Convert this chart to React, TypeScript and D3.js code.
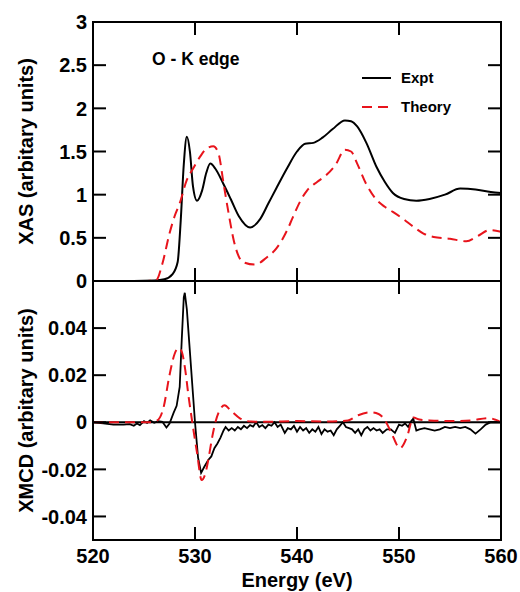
import React from 'react';
import * as d3 from 'd3';

// XAS panel (O K edge)
const xasExptE = [520, 524, 526, 527, 527.8, 528.3, 528.6, 528.9, 529.2, 529.5, 529.8, 530.2, 530.7, 531.1, 531.5, 532, 532.8, 533.5, 534.3, 535.4, 536.4, 537.2, 538, 539, 540, 540.8, 541.6, 542.5, 543.5, 544.7, 545.3, 545.9, 546.8, 547.8, 548.6, 549.4, 550.5, 551.7, 553, 554.5, 556, 557.5, 559, 560];
const xasExptV = [0, 0, 0.005, 0.02, 0.08, 0.22, 0.7, 1.35, 1.67, 1.5, 1.1, 0.93, 1.05, 1.25, 1.36, 1.3, 1.12, 0.95, 0.75, 0.62, 0.72, 0.9, 1.08, 1.3, 1.5, 1.59, 1.6, 1.66, 1.76, 1.86, 1.85, 1.79, 1.6, 1.32, 1.15, 1.02, 0.95, 0.93, 0.95, 1.0, 1.07, 1.06, 1.03, 1.02];

const xasTheoryE = [520, 525, 526.2, 526.8, 527.5, 528.0, 528.5, 529.2, 529.8, 530.5, 531.1, 531.8, 532.3, 532.8, 533.3, 533.8, 534.7, 535.9, 537, 538, 539, 539.6, 540.3, 541, 542, 542.9, 543.8, 544.7, 545.3, 545.9, 546.8, 547.8, 548.6, 549.4, 550.4, 551.4, 552.4, 553.4, 555, 556.6, 557.7, 558.9, 560];
const xasTheoryV = [0, 0, 0.01, 0.2, 0.55, 0.75, 0.9, 1.17, 1.3, 1.44, 1.53, 1.56, 1.48, 1.13, 0.78, 0.47, 0.22, 0.19, 0.27, 0.38, 0.58, 0.74, 0.92, 1.05, 1.15, 1.23, 1.35, 1.52, 1.5, 1.36, 1.12, 0.94, 0.86, 0.8, 0.72, 0.63, 0.55, 0.51, 0.49, 0.46, 0.52, 0.59, 0.57];

// XMCD panel
const xmcdExptE = [520, 521, 522, 523, 523.6, 524, 524.3, 524.6, 525, 525.3, 525.6, 526, 526.4, 526.8, 527.2, 527.5, 527.9, 528.2, 528.5, 528.7, 528.9, 529.0, 529.2, 529.5, 529.8, 530.0, 530.3, 530.6, 530.9, 531.3, 531.6, 531.9, 532.2, 532.5, 532.8, 533.0, 533.3, 533.6, 533.9, 534.2, 534.5, 534.8, 535.1, 535.4, 535.7, 536.0, 536.3, 536.6, 536.9, 537.2, 537.5, 537.8, 538.1, 538.4, 538.8, 539.1, 539.4, 539.7, 540.0, 540.3, 540.6, 540.9, 541.2, 541.5, 541.8, 542.1, 542.4, 542.7, 543.0, 543.3, 543.6, 543.9, 544.2, 544.5, 544.8, 545.1, 545.4, 545.7, 546.0, 546.3, 546.6, 546.9, 547.2, 547.5, 547.8, 548.1, 548.4, 548.8, 549.2, 549.6, 550.0, 550.3, 550.6, 550.9, 551.2, 551.4, 551.7, 552.0, 552.5, 553.0, 553.5, 554.0, 554.5, 555.0, 555.5, 556.0, 556.5, 557.0, 557.5, 558.0, 558.5, 559.0, 559.5, 560];
const xmcdExptV = [0, -0.0005, -0.001, -0.001, -0.0008, -0.0015, -0.0005, -0.0012, 0.0005, -0.0003, 0.0008, -0.0002, 0.0005, 0.0002, -0.0022, -0.0005, 0.004, 0.007, 0.015, 0.035, 0.053, 0.055, 0.048, 0.03, 0.012, 0, -0.015, -0.0215, -0.019, -0.016, -0.0145, -0.011, -0.009, -0.0065, -0.0035, -0.002, -0.0035, -0.0025, -0.0035, -0.002, -0.003, -0.0015, -0.0025, -0.0012, -0.0018, 0, -0.002, -0.0012, -0.0025, -0.001, -0.0015, 0, -0.002, -0.001, -0.0045, -0.0025, -0.003, -0.0015, -0.004, -0.002, -0.0035, -0.0025, -0.0045, -0.003, -0.004, -0.002, -0.005, -0.003, -0.004, -0.0035, -0.0055, -0.003, -0.0015, 0, -0.002, -0.0025, -0.003, -0.0045, -0.003, -0.0055, -0.003, -0.002, -0.0035, -0.0025, -0.0035, -0.003, -0.0045, -0.003, -0.003, -0.0045, -0.001, -0.0015, -0.0005, -0.002, 0.0005, 0.0015, -0.0035, -0.003, -0.0025, -0.003, -0.0035, -0.003, -0.002, -0.0025, -0.002, -0.0025, -0.002, -0.003, -0.0048, -0.003, -0.001, 0, 0, 0];

const xmcdTheoryE = [520, 525.5, 526.3, 526.9, 527.5, 528.0, 528.4, 528.7, 529.0, 529.4, 529.7, 530.2, 530.65, 531.0, 531.3, 531.7, 532.0, 532.4, 532.9, 533.5, 534.4, 535.5, 537, 540, 543, 545, 546, 547.2, 548.0, 548.6, 549.2, 550.1, 550.8, 551.4, 552, 553, 555, 557, 558.8, 559.5, 560];
const xmcdTheoryV = [0, 0, 0.0008, 0.006, 0.02, 0.029, 0.0315, 0.03, 0.0235, 0.01, 0.001, -0.013, -0.0245, -0.022, -0.016, -0.006, 0, 0.005, 0.0072, 0.005, 0.0017, 0.0003, 0.0002, 0.0005, 0.0003, 0.0008, 0.003, 0.0042, 0.0035, 0.001, -0.004, -0.011, -0.006, 0.002, 0.0012, 0.0008, 0.0005, 0.0008, 0.0018, 0.001, 0];

const energyTicks = [520, 530, 540, 550, 560];
const xasTicks = [0, 0.5, 1, 1.5, 2, 2.5, 3];
const xmcdTicks = [-0.04, -0.02, 0, 0.02, 0.04];

const W = 520;
const H = 592;
const left = 93;
const right = 501;
const top = 22;
const mid = 281;
const bottom = 540;
const tick = 13;
const font = '"Liberation Sans", Arial, Helvetica, sans-serif';

export default function App() {
  const x = d3.scaleLinear().domain([520, 560]).range([left, right]);
  const yXas = d3.scaleLinear().domain([0, 3]).range([mid, top]);
  const yXmcd = d3.scaleLinear().domain([-0.05, 0.06]).range([bottom, mid]);

  const mk = (ys: d3.ScaleLinear<number, number>, curve: d3.CurveFactory) =>
    d3.line<[number, number]>().x(d => x(d[0])).y(d => ys(d[1])).curve(curve);

  const pts = (es: number[], vs: number[]) => es.map((e, i) => [e, vs[i]] as [number, number]);

  const xasExpt = mk(yXas, d3.curveMonotoneX)(pts(xasExptE, xasExptV)) || '';
  const xasTheory = mk(yXas, d3.curveMonotoneX)(pts(xasTheoryE, xasTheoryV)) || '';
  const xmcdExpt = mk(yXmcd, d3.curveLinear)(pts(xmcdExptE, xmcdExptV)) || '';
  const xmcdTheory = mk(yXmcd, d3.curveMonotoneX)(pts(xmcdTheoryE, xmcdTheoryV)) || '';

  const labelStyle = { fontFamily: font, fontWeight: 700 as const, fontSize: 20, fill: '#000' };

  return (
    <svg width={W} height={H} style={{ position: 'absolute', left: 0, top: 0 }}>
      <rect width={W} height={H} fill="#fff" />
      <defs>
        <clipPath id="clipTop"><rect x={left} y={top} width={right - left} height={mid - top} /></clipPath>
        <clipPath id="clipBot"><rect x={left} y={mid} width={right - left} height={bottom - mid} /></clipPath>
      </defs>

      {/* curves */}
      <g clipPath="url(#clipTop)">
        <path d={xasExpt} fill="none" stroke="#000" strokeWidth={2} />
        <path d={xasTheory} fill="none" stroke="#e8141c" strokeWidth={2} strokeDasharray="10,6" />
      </g>
      <g clipPath="url(#clipBot)">
        <line x1={left} x2={right} y1={yXmcd(0)} y2={yXmcd(0)} stroke="#000" strokeWidth={2.2} />
        <path d={xmcdExpt} fill="none" stroke="#000" strokeWidth={1.8} />
        <path d={xmcdTheory} fill="none" stroke="#e8141c" strokeWidth={2} strokeDasharray="10,6" />
      </g>

      {/* frame */}
      <g stroke="#000" strokeWidth={2} fill="none">
        <rect x={left} y={top} width={right - left} height={bottom - top} />
        <line x1={left} x2={right} y1={mid} y2={mid} />
      </g>

      {/* x ticks */}
      <g stroke="#000" strokeWidth={2}>
        {energyTicks.map(t => (
          <g key={'xt' + t}>
            <line x1={x(t)} x2={x(t)} y1={top} y2={top + tick} />
            <line x1={x(t)} x2={x(t)} y1={mid - tick} y2={mid + tick} />
            <line x1={x(t)} x2={x(t)} y1={bottom} y2={bottom - tick} />
          </g>
        ))}
        {xasTicks.map(t => (
          <g key={'ya' + t}>
            <line x1={left} x2={left + tick} y1={yXas(t)} y2={yXas(t)} />
            <line x1={right} x2={right - tick} y1={yXas(t)} y2={yXas(t)} />
          </g>
        ))}
        {xmcdTicks.map(t => (
          <g key={'yb' + t}>
            <line x1={left} x2={left + tick} y1={yXmcd(t)} y2={yXmcd(t)} />
            <line x1={right} x2={right - tick} y1={yXmcd(t)} y2={yXmcd(t)} />
          </g>
        ))}
      </g>

      {/* tick labels */}
      {energyTicks.map(t => (
        <text key={'xl' + t} x={x(t)} y={563} textAnchor="middle" style={labelStyle}>{t}</text>
      ))}
      {xasTicks.map(t => (
        <text key={'yal' + t} x={left - 6} y={yXas(t)} dy="0.36em" textAnchor="end" style={labelStyle}>{t}</text>
      ))}
      {xmcdTicks.map(t => (
        <text key={'ybl' + t} x={left - 6} y={yXmcd(t)} dy="0.36em" textAnchor="end" style={labelStyle}>{t}</text>
      ))}

      {/* axis titles */}
      <text x={(left + right) / 2} y={587} textAnchor="middle" style={labelStyle}>Energy (eV)</text>
      <text transform={`translate(33, ${(top + mid) / 2}) rotate(-90)`} textAnchor="middle" style={labelStyle}>XAS (arbitary units)</text>
      <text transform={`translate(33, ${(mid + bottom) / 2}) rotate(-90)`} textAnchor="middle" style={labelStyle}>XMCD (arbitary units)</text>

      {/* annotation + legend */}
      <text x={152} y={65} style={{ ...labelStyle, fontSize: 17.5 }}>O - K edge</text>
      <line x1={362} x2={391} y1={78} y2={78} stroke="#000" strokeWidth={2} />
      <text x={401} y={83} style={{ ...labelStyle, fontSize: 15 }}>Expt</text>
      <line x1={362} x2={392} y1={107} y2={107} stroke="#e8141c" strokeWidth={2} strokeDasharray="10,6" />
      <text x={401} y={112} style={{ ...labelStyle, fontSize: 15 }}>Theory</text>
    </svg>
  );
}
